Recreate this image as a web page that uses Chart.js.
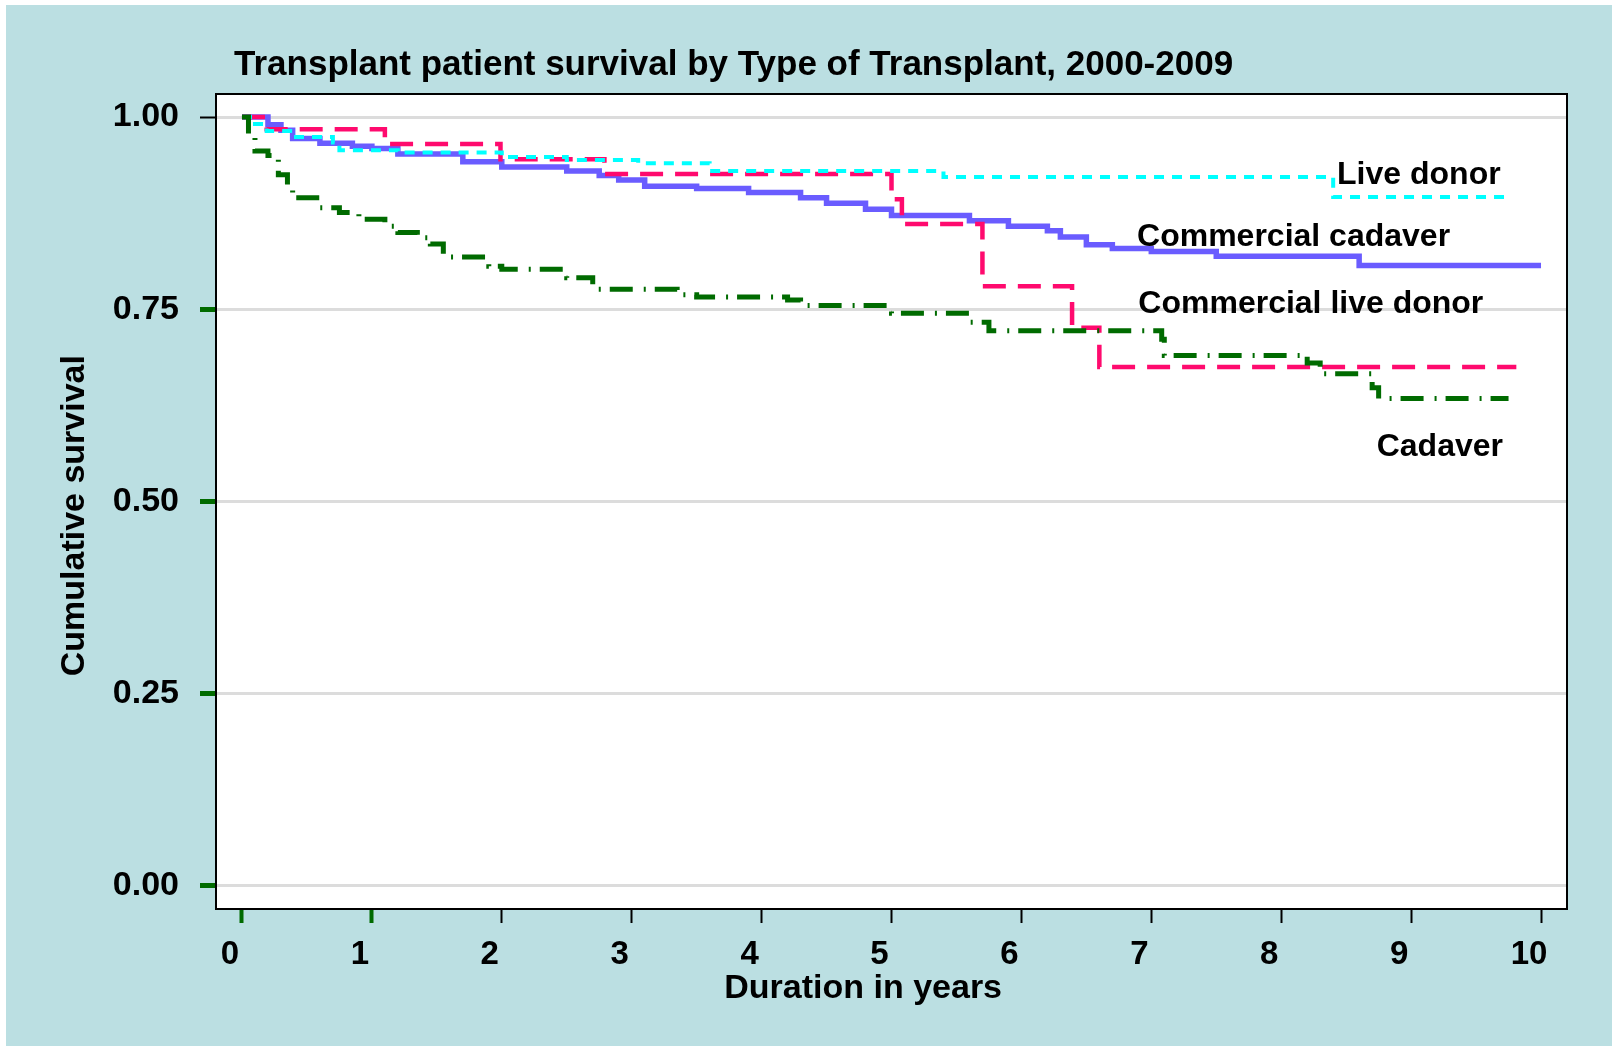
<!DOCTYPE html>
<html>
<head>
<meta charset="utf-8">
<title>Transplant patient survival</title>
<script src="https://cdn.jsdelivr.net/npm/chart.js@4.4.1/dist/chart.umd.min.js"></script>
<style>
  html, body { margin: 0; padding: 0; background: #ffffff; }
  #wrap { position: absolute; left: 6px; top: 5px; width: 1606px; height: 1041px; background: #BBDFE2; }
</style>
</head>
<body>
<div id="wrap"><canvas id="graficoSobrevida"></canvas></div>
<script>
const FONTE = "'Liberation Sans', Arial, sans-serif";

// Kaplan-Meier steps: time (years) and cumulative survival
const liveDonorT = [0, 0.1, 0.19, 0.39, 0.7, 0.75, 1.2, 2.0, 2.5, 3.05, 3.6, 5.4, 8.4, 9.74];
const liveDonorS = [1.0, 0.991, 0.982, 0.974, 0.967, 0.957, 0.954, 0.948, 0.944, 0.940, 0.930, 0.922, 0.896, 0.896];

const comCadaverT = [0, 0.2, 0.3, 0.39, 0.6, 0.85, 1.0, 1.2, 1.7, 2.0, 2.5, 2.75, 2.9, 3.1, 3.5, 3.9, 4.3, 4.5, 4.8, 5.0, 5.6, 5.9, 6.2, 6.3, 6.5, 6.7, 7.0, 7.5, 8.6, 10.0];
const comCadaverS = [1.0, 0.990, 0.983, 0.972, 0.966, 0.962, 0.959, 0.952, 0.942, 0.935, 0.930, 0.924, 0.918, 0.910, 0.907, 0.902, 0.895, 0.888, 0.880, 0.872, 0.865, 0.858, 0.852, 0.844, 0.834, 0.829, 0.825, 0.819, 0.807, 0.807];

const comLiveT = [0, 0.19, 1.10, 1.99, 2.79, 5.0, 5.08, 5.70, 6.39, 6.6, 9.81];
const comLiveS = [1.0, 0.984, 0.965, 0.945, 0.926, 0.893, 0.861, 0.780, 0.726, 0.675, 0.675];

const cadaverT = [0, 0.05, 0.1, 0.2, 0.28, 0.35, 0.39, 0.6, 0.75, 0.9, 1.1, 1.2, 1.35, 1.45, 1.55, 1.9, 2.0, 2.5, 2.7, 3.35, 3.5, 4.2, 4.3, 5.0, 5.6, 5.75, 7.08, 7.1, 8.2, 8.3, 8.7, 8.75, 9.75];
const cadaverS = [1.0, 0.975, 0.956, 0.950, 0.925, 0.905, 0.895, 0.882, 0.876, 0.867, 0.858, 0.850, 0.843, 0.835, 0.818, 0.806, 0.802, 0.791, 0.776, 0.769, 0.766, 0.762, 0.755, 0.745, 0.733, 0.722, 0.711, 0.690, 0.680, 0.666, 0.648, 0.634, 0.634];

const xTicks = [0, 1, 2, 3, 4, 5, 6, 7, 8, 9, 10];
const yTicks = [0, 0.25, 0.5, 0.75, 1];
const yTickLabels = ['0.00', '0.25', '0.50', '0.75', '1.00'];

// curve labels, anchored in data units (left edge, baseline)
const labelText = ['Live donor', 'Commercial cadaver', 'Commercial live donor', 'Cadaver'];
const labelT = [8.43, 6.89, 6.90, 8.735];
const labelS = [0.9133, 0.8323, 0.7455, 0.5592];

const pontos = (t, s) => t.map((v, i) => ({x: v, y: s[i]}));

const fundoPlot = {
    id: 'fundoPlot',
    beforeDraw(chart) {
        const {ctx, chartArea: a} = chart;
        ctx.save();
        ctx.fillStyle = '#ffffff';
        ctx.fillRect(a.left, a.top, a.right - a.left, a.bottom - a.top);
        ctx.restore();
    },
    afterDatasetsDraw(chart) {
        const {ctx, chartArea: a, scales} = chart;
        ctx.save();
        ctx.strokeStyle = '#000000';
        ctx.lineWidth = 2;
        ctx.strokeRect(a.left, a.top, a.right - a.left, a.bottom - a.top);

        ctx.fillStyle = '#000000';
        ctx.textBaseline = 'alphabetic';
        ctx.textAlign = 'left';
        ctx.font = 'bold 32px ' + FONTE;
        labelText.forEach((txt, i) => {
            ctx.fillText(txt, scales.x.getPixelForValue(labelT[i]), scales.y.getPixelForValue(labelS[i]));
        });

        ctx.font = 'bold 35px ' + FONTE;
        ctx.fillText('Transplant patient survival by Type of Transplant, 2000-2009', a.left + 18, 70);
        ctx.restore();
    }
};

const ctxSobrevida = document.getElementById('graficoSobrevida').getContext('2d');

new Chart(ctxSobrevida, {
    type: 'line',
    data: {
        datasets: [
            {
                label: 'Cadaver',
                data: pontos(cadaverT, cadaverS),
                borderColor: '#006B00',
                borderWidth: 5,
                borderDash: [23, 11, 2, 9]
            },
            {
                label: 'Live donor',
                data: pontos(liveDonorT, liveDonorS),
                borderColor: '#00FFFF',
                borderWidth: 4,
                borderDash: [10, 8]
            },
            {
                label: 'Commercial live donor',
                data: pontos(comLiveT, comLiveS),
                borderColor: '#FF0A6E',
                borderWidth: 4.5,
                borderDash: [23, 12]
            },
            {
                label: 'Commercial cadaver',
                data: pontos(comCadaverT, comCadaverS),
                borderColor: '#6A5CFF',
                borderWidth: 5.5
            }
        ]
    },
    options: {
        responsive: true,
        maintainAspectRatio: false,
        animation: false,
        elements: {
            point: {radius: 0},
            line: {stepped: true, tension: 0, borderCapStyle: 'butt', borderJoinStyle: 'miter'}
        },
        layout: {padding: {top: 89, right: 45, left: 0, bottom: 0}},
        plugins: {
            legend: {display: false},
            tooltip: {enabled: false},
            title: {display: false}
        },
        scales: {
            x: {
                type: 'linear',
                min: -0.2,
                max: 10.2,
                afterBuildTicks: s => { s.ticks = xTicks.map(v => ({value: v})); },
                afterFit: s => { s.height = 137; },
                border: {display: false},
                grid: {
                    drawOnChartArea: false,
                    tickLength: 14,
                    tickColor: c => (c.tick && c.tick.value <= 1) ? '#006B00' : '#000000',
                    tickWidth: c => (c.tick && c.tick.value <= 1) ? 4 : 2
                },
                ticks: {
                    color: '#000000',
                    padding: 12,
                    labelOffset: -12,
                    maxRotation: 0,
                    font: {family: FONTE, size: 33, weight: 'bold'},
                    callback: v => String(v)
                },
                title: {
                    display: true,
                    text: 'Duration in years      ',
                    color: '#000000',
                    font: {family: FONTE, size: 34, weight: 'bold'},
                    padding: {top: 0, bottom: 37}
                }
            },
            y: {
                min: -0.03,
                max: 1.03,
                afterBuildTicks: s => { s.ticks = yTicks.map(v => ({value: v})); },
                afterFit: s => { s.width = 210; },
                border: {display: false},
                grid: {
                    color: '#DCDCDC',
                    lineWidth: 3,
                    tickLength: 16,
                    tickColor: c => (c.tick && c.tick.value < 1) ? '#006B00' : '#000000',
                    tickWidth: c => (c.tick && c.tick.value < 1) ? 5 : 2
                },
                ticks: {
                    color: '#000000',
                    padding: 21,
                    font: {family: FONTE, size: 34, weight: 'bold'},
                    callback: v => yTickLabels[yTicks.indexOf(v)]
                },
                title: {
                    display: true,
                    text: 'Cumulative survival   ',
                    color: '#000000',
                    font: {family: FONTE, size: 34, weight: 'bold'},
                    padding: {top: 48, bottom: 0}
                }
            }
        }
    },
    plugins: [fundoPlot]
});
</script>
</body>
</html>
